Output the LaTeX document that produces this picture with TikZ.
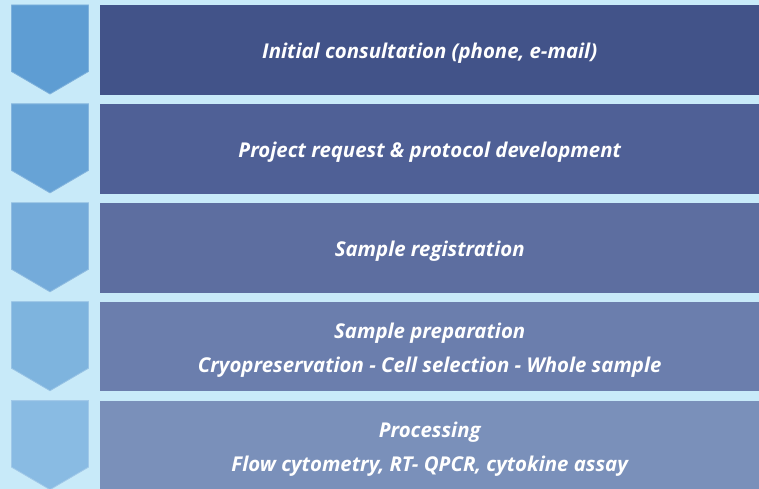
\documentclass[tikz,border=0pt]{standalone}
\usepackage{fontspec}
\setmainfont{Open Sans}
\definecolor{bg}{HTML}{C8EAF9}
\definecolor{cA}{HTML}{5E9DD3}
\definecolor{cB}{HTML}{67A3D6}
\definecolor{cC}{HTML}{74ABDA}
\definecolor{cD}{HTML}{7EB4DE}
\definecolor{cE}{HTML}{89BBE3}
\definecolor{rA}{HTML}{425389}
\definecolor{rB}{HTML}{4F6096}
\definecolor{rC}{HTML}{5D6EA0}
\definecolor{rD}{HTML}{6B7EAD}
\definecolor{rE}{HTML}{7A90BA}
\tikzset{
  stepbar/.style={minimum width=659pt, minimum height=89.5pt, anchor=north west, inner sep=0pt},
  steptext/.style={inner sep=0pt, align=center, text=white, font=\fontsize{20.4}{34}\selectfont\bfseries\itshape},
  chev/.style={line width=0.8pt}
}
\begin{document}
\begin{tikzpicture}[x=1pt,y=-1pt]
\fill[bg] (0,0) rectangle (759,489);
\useasboundingbox (0,0) rectangle (759,489);
\foreach \i/\c in {0/cA,1/cB,2/cC,3/cD,4/cE}{
  \pgfmathsetmacro{\t}{5+98.9*\i}
  \filldraw[chev, fill=\c, draw=\c!80!white] (11.5,\t) -- (88.5,\t) -- (88.5,\t+66.5) -- (50,\t+89) -- (11.5,\t+66.5) -- cycle;
}
\node[stepbar, fill=rA] (s1) at (100,5) {};
\node[stepbar, fill=rB] (s2) at (100,103.9) {};
\node[stepbar, fill=rC] (s3) at (100,202.8) {};
\node[stepbar, fill=rD] (s4) at (100,301.7) {};
\node[stepbar, fill=rE] (s5) at (100,400.6) {};
\node[steptext] (t1) at ([yshift=-3.5pt]s1.center) {Initial consultation (phone, e-mail)};
\node[steptext] (t2) at ([yshift=-3.5pt]s2.center) {Project request \& protocol development};
\node[steptext] (t3) at ([yshift=-3.5pt]s3.center) {Sample registration};
\node[steptext] (t4) at ([yshift=-3.5pt]s4.center) {Sample preparation\\Cryopreservation - Cell selection - Whole sample};
\node[steptext] (t5) at ([yshift=-3.5pt]s5.center) {Processing\\Flow cytometry, RT- QPCR, cytokine assay};
\end{tikzpicture}
\end{document}
